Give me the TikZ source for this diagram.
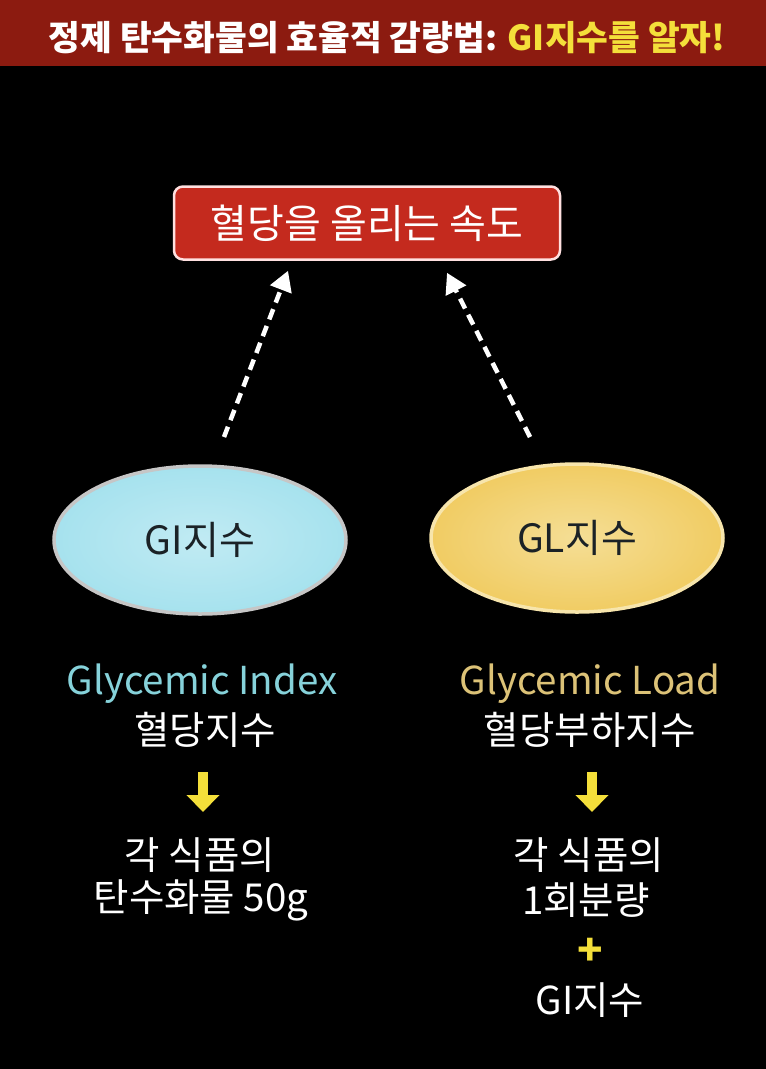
\documentclass[tikz,border=0pt]{standalone}
\usepackage{fontspec}
\setmainfont{Noto Sans CJK KR}
\usepackage{tikz}
\usetikzlibrary{arrows.meta,positioning,shapes.geometric}
\definecolor{gibar}{HTML}{8C1B10}
\definecolor{giyellow}{HTML}{F4DF3A}
\definecolor{gired}{HTML}{C42A1E}
\definecolor{gicyan}{HTML}{86D2DA}
\definecolor{gigold}{HTML}{DCC277}
\definecolor{giice}{HTML}{A6E2EE}
\definecolor{gisun}{HTML}{F0D068}
\definecolor{giink}{HTML}{1B2226}

\begin{document}
\begin{tikzpicture}[x=1pt,y=-1pt,
  bigtext/.style={text=white, font=\fontsize{38.5}{42}\selectfont},
  pill/.style={ellipse, minimum width=292pt, minimum height=148pt, line width=3.5pt,
    text=giink, font=\fontsize{39}{42}\selectfont},
  dashup/.style={white, line width=4.5pt, dash pattern=on 11pt off 7pt,
    -{Triangle[length=20pt,width=22pt]}},
  downarrow/.style={giyellow, line width=10pt, -{Triangle[length=17pt,width=32pt]}}]
  % background and title bar
  \fill[black] (0,0) rectangle (766,1069);
  \fill[gibar] (0,0) rectangle (766,66);
  \node[text=white, font=\fontsize{34.5}{36}\selectfont\bfseries] (title) at (387,38)
    {정제 탄수화물의 효율적 감량법: \textcolor{giyellow}{GI지수를 알자!}};
  % top box
  \node[draw=white!88!red, fill=gired, line width=2.5pt, rounded corners=9pt,
    minimum width=386pt, minimum height=73pt, text=white,
    font=\fontsize{40}{42}\selectfont] (speed) at (367,223) {혈당을 올리는 속도};
  % the two indices
  \node[pill, draw=gray!45!white, inner color=giice!70!white, outer color=giice] (gi) at (200,540) {GI지수};
  \node[pill, draw=gisun!55!white, inner color=gisun!70!white, outer color=gisun!95!orange] (gl) at (577,538) {GL지수};
  % dashed arrows
  \coordinate (giup) at (224,437);
  \coordinate (glup) at (530,437);
  \draw[dashup] (giup) -- ([xshift=-79pt,yshift=-10pt]speed.south);
  \draw[dashup] (glup) -- ([xshift=80pt,yshift=-12pt]speed.south);
  % left column
  \node[bigtext, text=gicyan] (giname) at (202,684) {Glycemic Index};
  \node[bigtext] (gikor) at (205,730) {혈당지수};
  \coordinate (gia) at (203,772);
  \coordinate (gib) at (203,812);
  \draw[downarrow] (gia) -- (gib);
  \node[bigtext] (gieach) at (200,855) {각 식품의};
  \node[bigtext] (gicarb) at (201,900) {탄수화물 50g};
  % right column
  \node[bigtext, text=gigold] (glname) at (590,684) {Glycemic Load};
  \node[bigtext] (glkor) at (590,730) {혈당부하지수};
  \coordinate (gla) at (592,772);
  \coordinate (glb) at (592,812);
  \draw[downarrow] (gla) -- (glb);
  \node[bigtext] (gleach) at (589,855) {각 식품의};
  \node[bigtext] (glserve) at (586,900) {1회분량};
  \node[text=giyellow, font=\fontsize{42}{44}\selectfont\bfseries] (glplus) at (590,952) {+};
  \node[bigtext] (glgi) at (590,1000) {GI지수};
\end{tikzpicture}
\end{document}
